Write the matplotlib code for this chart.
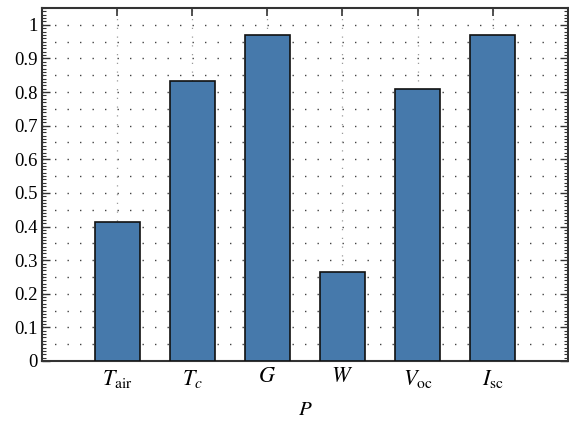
import matplotlib
matplotlib.use("Agg")
import matplotlib.pyplot as plt
from matplotlib.ticker import MultipleLocator

plt.rcParams['font.family'] = ['Liberation Serif', 'DejaVu Serif']
plt.rcParams['mathtext.fontset'] = 'stix'

# data
labels = [r'$T_{\mathrm{air}}$', r'$T_c$', r'$G$', r'$W$', r'$V_{\mathrm{oc}}$', r'$I_{\mathrm{sc}}$']
values = [0.413, 0.833, 0.970, 0.265, 0.810, 0.970]
positions = [1, 2, 3, 4, 5, 6]

fig = plt.figure(figsize=(5.69, 4.23), dpi=100)
ax = fig.add_axes([0.0738, 0.1466, 0.9242, 0.8344])

ax.bar(positions, values, width=0.6, color='#4679ab', edgecolor='#111111',
       linewidth=1.2, zorder=3)

ax.set_xlim(0, 7)
ax.set_ylim(0, 1.05)
ax.set_xticks(positions)
ax.set_xticklabels(labels, fontsize=16)
ax.yaxis.set_minor_locator(MultipleLocator(0.01))
ax.set_yticks([i / 10 for i in range(11)])
ax.set_yticklabels(['0', '0.1', '0.2', '0.3', '0.4', '0.5', '0.6', '0.7', '0.8', '0.9', '1'], fontsize=13.5)

# dotted grid: horizontal every 0.05, vertical at categories
for k in range(1, 21):
    ax.axhline(k * 0.05, color='#444444', lw=1.0, ls=(0, (1, 8)), zorder=1)
for p in positions:
    ax.axvline(p, color='#9a9a9a', lw=0.9, ls=(0, (1, 6)), zorder=1)

ax.tick_params(axis='both', which='both', direction='in', top=True, right=True,
               color='#333333')
ax.tick_params(axis='x', which='major', length=6, width=1.2, pad=5)
ax.tick_params(axis='y', which='major', length=6, width=1.0, pad=3)
ax.tick_params(axis='y', which='minor', length=3, width=0.8)
ax.tick_params(axis='x', which='minor', bottom=False, top=False)

for s in ax.spines.values():
    s.set_color('#333333')
    s.set_linewidth(1.5)

ax.set_xlabel(r'$P$', fontsize=15, labelpad=8)

fig.savefig('out.png', dpi=100)
